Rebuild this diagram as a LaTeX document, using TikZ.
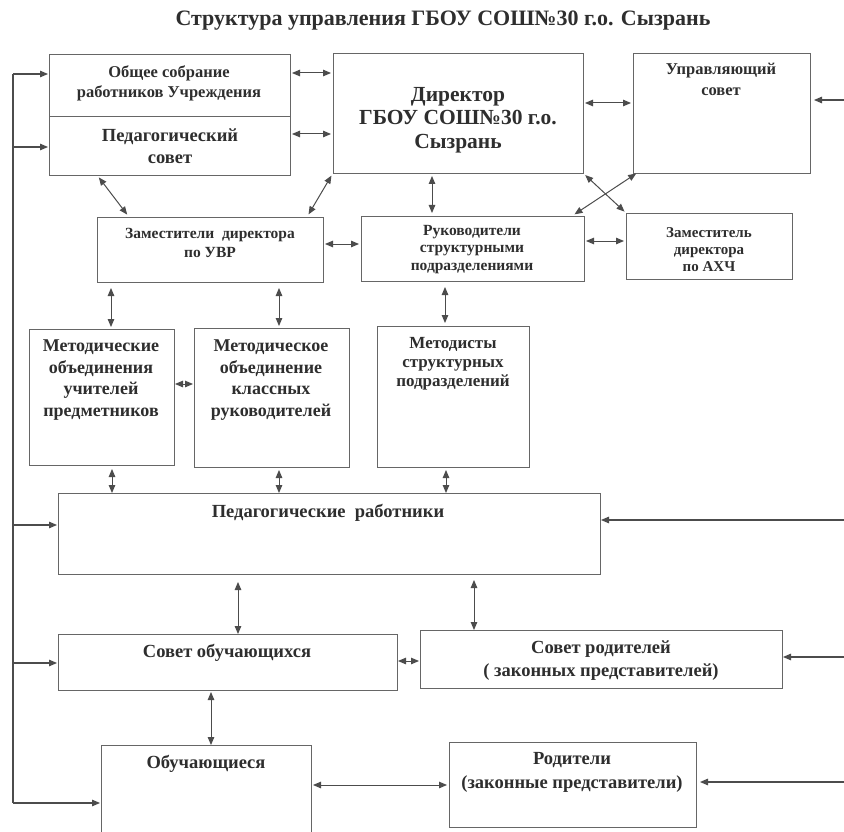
\documentclass[tikz,border=0pt]{standalone}
\usepackage{fontspec}
\setmainfont{Liberation Serif}
\usetikzlibrary{arrows.meta,fit}
\definecolor{linec}{gray}{0.3}
\definecolor{boxc}{gray}{0.4}
\definecolor{textc}{gray}{0.18}
\newcommand\myfs[2]{\fontsize{#1}{#2}\selectfont\bfseries}
\begin{document}
\begin{tikzpicture}[x=1pt,y=-1pt,
  box/.style={draw=boxc, line width=0.9pt, inner sep=0pt, outer sep=0pt},
  txt/.style={text=textc, align=center, inner sep=0pt},
  conn/.style={draw=linec, line width=1pt, shorten <=2pt, shorten >=2pt,
    {Triangle[length=8pt,width=6.5pt]}-{Triangle[length=8pt,width=6.5pt]}},
  inarr/.style={draw=linec, line width=1.1pt, shorten >=1pt, -{Triangle[length=8pt,width=6.5pt]}},
  wire/.style={draw=linec, line width=1.1pt}
]
\useasboundingbox (0,0) rectangle (844,832);
\fill[white] (0,0) rectangle (844,832);
\clip (0,0) rectangle (844,832);

% title
\node[txt, font=\myfs{22}{26}] (title) at (443,21) {Структура управления ГБОУ СОШ№30 г.о. Сызрань};

% boxes
\node[box, fit={(49,54) (290,116)}] (sobr) {};
\node[box, fit={(49,116) (290,175)}] (ped) {};
\node[box, fit={(333,53) (583,173)}] (dir) {};
\node[box, fit={(633,53) (810,173)}] (upr) {};
\node[box, fit={(97,217) (323,282)}] (zam) {};
\node[box, fit={(361,216) (584,281)}] (ruk) {};
\node[box, fit={(626,213) (792,279)}] (akh) {};
\node[box, fit={(29,329) (174,465)}] (mo1) {};
\node[box, fit={(194,328) (349,467)}] (mo2) {};
\node[box, fit={(377,326) (529,467)}] (meth) {};
\node[box, fit={(58,493) (600,574)}] (pedr) {};
\node[box, fit={(58,634) (397,690)}] (sovo) {};
\node[box, fit={(420,630) (782,688)}] (sovr) {};
\node[box, fit={(101,745) (311,840)}] (obuch) {};
\node[box, fit={(449,742) (696,827)}] (rod) {};

% texts
\node[txt, font=\myfs{16.5}{20}] (tsobr) at (169,83) {Общее собрание\\работников Учреждения};
\node[txt, font=\myfs{18.5}{22}] (tped) at (170,146) {Педагогический\\совет};
\node[txt, font=\myfs{21.5}{23.5}] (tdir) at (458,120) {Директор\\ГБОУ СОШ№30 г.о.\\Сызрань};
\node[txt, font=\myfs{16.5}{21}] (tupr) at (721,79.5) {Управляющий\\совет};
\node[txt, font=\myfs{15.5}{19}] (tzam) at (210,242.5) {Заместители \ директора\\по УВР};
\node[txt, font=\myfs{15.5}{17.5}] (truk) at (472,249.5) {Руководители\\структурными\\подразделениями};
\node[txt, font=\myfs{15}{17}] (takh) at (709,250) {Заместитель\\директора\\по АХЧ};
\node[txt, font=\myfs{18}{21.7}] (tmo1) at (101,380) {Методические\\объединения\\учителей\\предметников};
\node[txt, font=\myfs{18}{21.7}] (tmo2) at (271,380) {Методическое\\объединение\\классных\\руководителей};
\node[txt, font=\myfs{17}{19}] (tmeth) at (453,364) {Методисты\\структурных\\подразделений};
\node[txt, font=\myfs{18.5}{22}] (tpedr) at (328,513) {Педагогические \ работники};
\node[txt, font=\myfs{18.5}{22}] (tsovo) at (227,653) {Совет обучающихся};
\node[txt, font=\myfs{18.5}{23}] (tsovr) at (601,660.5) {Совет родителей\\( законных представителей)};
\node[txt, font=\myfs{18.5}{22}] (tobuch) at (206,764) {Обучающиеся};
\node[txt, font=\myfs{18.5}{24}] (trod) at (572,772) {Родители\\(законные представители)};

% connectors between boxes
\draw[conn] (sobr.east |- 0,73) -- (dir.west |- 0,73);
\draw[conn] (ped.east |- 0,134) -- (dir.west |- 0,134);
\draw[conn] (dir.east |- 0,103) -- (upr.west |- 0,103);
\draw[conn, shorten <=3pt, shorten >=3pt] (ped.south -| 97,0) -- (zam.north -| 129,0);
\draw[conn, shorten <=3pt, shorten >=3pt] (dir.south west) -- (zam.north -| 307,0);
\draw[conn, shorten <=3pt, shorten >=3pt] (dir.south -| 432,0) -- (ruk.north -| 432,0);
\draw[conn, shorten <=3pt, shorten >=2pt] (dir.south east) -- (akh.north west);
\draw[conn, shorten <=1pt, shorten >=3pt] (upr.south west -| 637,0) -- (ruk.north -| 572,0);
\draw[conn] (zam.east |- 0,244) -- (ruk.west |- 0,244);
\draw[conn] (ruk.east |- 0,241) -- (akh.west |- 0,241);
\draw[conn, shorten <=6pt] (zam.south -| 111,0) -- (mo1.north -| 111,0);
\draw[conn, shorten <=6pt] (zam.south -| 279,0) -- (mo2.north -| 279,0);
\draw[conn, shorten <=6pt, shorten >=3pt] (ruk.south -| 445,0) -- (meth.north -| 445,0);
\draw[conn, shorten <=1pt, shorten >=1pt] (mo1.east |- 0,384) -- (mo2.west |- 0,384);
\draw[conn, shorten <=4pt, shorten >=0pt] (mo1.south -| 112,0) -- (pedr.north -| 112,0);
\draw[conn, shorten <=3pt, shorten >=0pt] (mo2.south -| 279,0) -- (pedr.north -| 279,0);
\draw[conn, shorten <=3pt, shorten >=0pt] (meth.south -| 446,0) -- (pedr.north -| 446,0);
\draw[conn, shorten <=8pt, shorten >=0pt] (pedr.south -| 238,0) -- (sovo.north -| 238,0);
\draw[conn, shorten <=6pt, shorten >=0pt] (pedr.south -| 474,0) -- (sovr.north -| 474,0);
\draw[conn, shorten <=1pt, shorten >=1pt] (sovo.east |- 0,661) -- (sovr.west |- 0,661);
\draw[conn, shorten <=2pt, shorten >=0pt] (sovo.south -| 211,0) -- (obuch.north -| 211,0);
\draw[conn] (obuch.east |- 0,785) -- (rod.west |- 0,785);

% left bus
\coordinate (L1) at (13,74);
\coordinate (L2) at (13,147);
\coordinate (L3) at (13,525);
\coordinate (L4) at (13,663);
\coordinate (L5) at (13,803);
\draw[wire] (L1) -- (L5);
\draw[inarr] (L1) -- (sobr.west |- L1);
\draw[inarr] (L2) -- (ped.west |- L2);
\draw[inarr] (L3) -- (pedr.west |- L3);
\draw[inarr] (L4) -- (sovo.west |- L4);
\draw[inarr] (L5) -- (obuch.west |- L5);

% right inputs
\coordinate (R1) at (846,100);
\coordinate (R2) at (846,520);
\coordinate (R3) at (846,657);
\coordinate (R4) at (846,782);
\draw[inarr, shorten >=4pt] (R1) -- (upr.east |- R1);
\draw[inarr] (R2) -- (pedr.east |- R2);
\draw[inarr] (R3) -- (sovr.east |- R3);
\draw[inarr, shorten >=4pt] (R4) -- (rod.east |- R4);
\end{tikzpicture}
\end{document}
